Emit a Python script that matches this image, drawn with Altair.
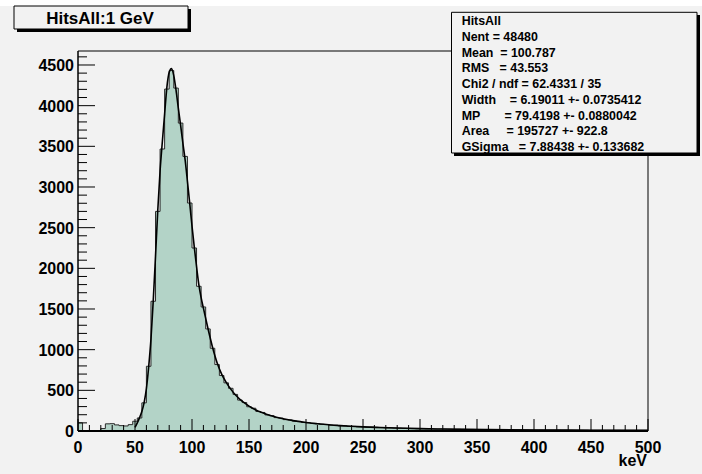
import altair as alt
import pandas as pd

# ---------------- data ----------------
bin_lo = list(range(0, 500, 4))  # 4 keV bins, 0..500 keV
counts = [
    100, 5, 3, 2, 4, 30, 88, 90, 75, 66,
    62, 78, 120, 160, 346, 796, 1595, 2700, 3467, 4204,
    4432, 4216, 3786, 3376, 2803, 2250, 1779, 1525, 1255, 1017,
    817, 682, 592,
    525, 450, 380, 350, 298, 280, 240, 228, 198, 188,
    165, 158, 140, 136, 121, 117, 105, 102, 93, 90,
    82, 80, 72, 71, 64, 63, 57, 56, 52, 51,
    46, 47, 42, 41, 38, 38, 35, 34, 32, 31,
    30, 28, 28, 26, 26, 24, 24, 23, 22, 21,
    21, 20, 19, 19, 18, 18, 17, 16, 16, 15,
    15, 15, 14, 14, 13, 13, 12,
    12, 12, 11, 11, 11, 11, 10, 10, 10, 10,
    10, 10, 9, 9, 9, 9, 9, 9, 9, 8,
    8, 8, 8, 8, 8,
]

fit_kev = [50, 52, 54, 56, 58, 60, 62, 64, 66, 68, 70, 72, 74, 76, 78, 80, 82, 84,
           86, 88, 90, 92, 94, 96, 98, 100, 102, 104, 106, 108, 110, 114, 118,
           122, 126, 130, 134, 138, 142, 146, 150, 156, 162, 168, 174, 180, 190,
           200, 210, 220, 230, 240, 250, 265, 280, 300, 320, 340, 360, 380, 400,
           425, 450, 475, 500]
fit_val = [45, 100, 165, 240, 350, 520, 790, 1130, 1600, 2150, 2720, 3200, 3560,
           3900, 4230, 4410, 4455, 4370, 4190, 3970, 3760, 3540, 3330, 3070, 2800,
           2520, 2260, 2020, 1800, 1640, 1510, 1260, 1030, 840, 700, 598, 515,
           445, 390, 345, 305, 258, 223, 193, 170, 150, 124, 104, 89, 76, 66, 58,
           51, 43, 36, 29, 24.5, 20.5, 17.5, 15, 13, 11.3, 9.8, 8.7, 7.8]

y_major = [0, 500, 1000, 1500, 2000, 2500, 3000, 3500, 4000, 4500]
y_minor = [v for v in range(100, 4700, 100) if v % 500 != 0]
x_major = [0, 50, 100, 150, 200, 250, 300, 350, 400, 450, 500]
x_minor = [v for v in range(10, 500, 10) if v % 50 != 0]

title_text = "HitsAll:1 GeV"
x_title = "keV"
NB = "\u00a0"
stats_lines = [
    "HitsAll",
    "Nent = 48480",
    "Mean" + NB * 2 + "= 100.787",
    "RMS" + NB * 3 + "= 43.553",
    "Chi2 / ndf = 62.4331 / 35",
    "Width" + NB * 4 + "= 6.19011 +- 0.0735412",
    "MP" + NB * 7 + "= 79.4198 +- 0.0880042",
    "Area" + NB * 5 + "= 195727 +- 922.8",
    "GSigma" + NB * 3 + "= 7.88438 +- 0.133682",
]

# ---------------- layout ----------------
W, H = 570, 380
XMAX, YMAX = 500, 4672
FONT = "Liberation Sans"
BG = "#f2f2f2"

xs = alt.Scale(domain=[0, XMAX], nice=False, zero=False)
ys = alt.Scale(domain=[0, YMAX], nice=False, zero=True)

hist_df = pd.DataFrame({"x": bin_lo + [XMAX], "y": counts + [counts[-1]]})
fit_df = pd.DataFrame({"x": fit_kev, "y": fit_val})
one = pd.DataFrame({"a": [0]})

# white strip along the top edge of the canvas
top_strip = alt.Chart(one).mark_rect(color="white").encode(
    x=alt.value(-78), x2=alt.value(W + 54), y=alt.value(-51), y2=alt.value(-45))

area = alt.Chart(hist_df).mark_area(interpolate="step-after", color="#b3d3c7").encode(
    x=alt.X("x:Q", scale=xs, axis=None),
    y=alt.Y("y:Q", scale=ys, axis=None),
)
outline = alt.Chart(hist_df).mark_line(interpolate="step-after", color="#2a2a2a",
                                       strokeWidth=1).encode(
    x=alt.X("x:Q", scale=xs, axis=None),
    y=alt.Y("y:Q", scale=ys, axis=None),
)
fit = alt.Chart(fit_df).mark_line(color="black", strokeWidth=1.6,
                                  interpolate="monotone").encode(
    x=alt.X("x:Q", scale=xs, axis=None),
    y=alt.Y("y:Q", scale=ys, axis=None),
)

# ticks pointing inwards
ymaj = alt.Chart(pd.DataFrame({"v": y_major})).mark_rule(color="black").encode(
    y=alt.Y("v:Q", scale=ys, axis=None), x=alt.value(0), x2=alt.value(17))
ymin = alt.Chart(pd.DataFrame({"v": y_minor})).mark_rule(color="black").encode(
    y=alt.Y("v:Q", scale=ys, axis=None), x=alt.value(0), x2=alt.value(9))
xmaj = alt.Chart(pd.DataFrame({"v": x_major})).mark_rule(color="black").encode(
    x=alt.X("v:Q", scale=xs, axis=None), y=alt.value(H), y2=alt.value(H - 12))
xmin = alt.Chart(pd.DataFrame({"v": x_minor})).mark_rule(color="black").encode(
    x=alt.X("v:Q", scale=xs, axis=None), y=alt.value(H), y2=alt.value(H - 6))

# tick labels
ylab = alt.Chart(pd.DataFrame({"v": y_major})).mark_text(
    font=FONT, fontSize=16, fontWeight="bold", align="right", baseline="middle",
    color="black", dy=1).encode(
    y=alt.Y("v:Q", scale=ys, axis=None), x=alt.value(-4), text=alt.Text("v:Q", format="d"))
xlab = alt.Chart(pd.DataFrame({"v": x_major})).mark_text(
    font=FONT, fontSize=16, fontWeight="bold", align="center", baseline="alphabetic",
    color="black").encode(
    x=alt.X("v:Q", scale=xs, axis=None), y=alt.value(H + 21.5), text=alt.Text("v:Q", format="d"))

# frame
frame_top = alt.Chart(one).mark_rule(color="black", strokeWidth=1).encode(
    x=alt.value(0), x2=alt.value(W), y=alt.value(0))
frame_right = alt.Chart(one).mark_rule(color="black", strokeWidth=1).encode(
    x=alt.value(W), y=alt.value(0), y2=alt.value(H))
frame_left = alt.Chart(one).mark_rule(color="black", strokeWidth=1.5).encode(
    x=alt.value(0), y=alt.value(0), y2=alt.value(H))
frame_bottom = alt.Chart(one).mark_rule(color="black", strokeWidth=2).encode(
    x=alt.value(0), x2=alt.value(W), y=alt.value(H))

x_label = alt.Chart(one).mark_text(text=x_title, font=FONT, fontSize=16,
                                   fontWeight="bold", align="right",
                                   baseline="alphabetic", color="black").encode(
    x=alt.value(W - 1), y=alt.value(H + 35))

# title box (with shadow)
tb_shadow = alt.Chart(one).mark_rect(color="black").encode(
    x=alt.value(-61), x2=alt.value(113), y=alt.value(-42), y2=alt.value(-19))
tb_box = alt.Chart(one).mark_rect(fill=BG, stroke="black", strokeWidth=1).encode(
    x=alt.value(-64), x2=alt.value(110), y=alt.value(-45), y2=alt.value(-22))
tb_text = alt.Chart(one).mark_text(text=title_text, font=FONT, fontSize=17,
                                   fontWeight="bold", align="center",
                                   baseline="alphabetic", color="black").encode(
    x=alt.value(22), y=alt.value(-27.5))

# stats box (with shadow)
sb_shadow = alt.Chart(one).mark_rect(color="black").encode(
    x=alt.value(376), x2=alt.value(622), y=alt.value(-36), y2=alt.value(105))
sb_box = alt.Chart(one).mark_rect(fill=BG, stroke="black", strokeWidth=1).encode(
    x=alt.value(373.5), x2=alt.value(619), y=alt.value(-38.7), y2=alt.value(102))
sb_text = alt.Chart(one).mark_text(text="\n".join(stats_lines), lineBreak="\n",
                                   lineHeight=15.75, font=FONT, fontSize=12.4,
                                   fontWeight="bold", align="left",
                                   baseline="alphabetic", color="black").encode(
    x=alt.value(383.7), y=alt.value(-26))

chart = alt.layer(
    top_strip,
    frame_top, frame_right,
    area, outline, fit,
    ymaj, ymin, xmaj, xmin,
    frame_left, frame_bottom,
    ylab, xlab, x_label,
    tb_shadow, tb_box, tb_text,
    sb_shadow, sb_box, sb_text,
).properties(
    width=W, height=H,
    padding={"left": 78, "top": 51, "right": 54, "bottom": 43},
    autosize=alt.AutoSizeParams(type="none"),
    background=BG,
).configure_view(stroke=None)

chart.save("out.html", embed_options={"renderer": "svg", "actions": False})
